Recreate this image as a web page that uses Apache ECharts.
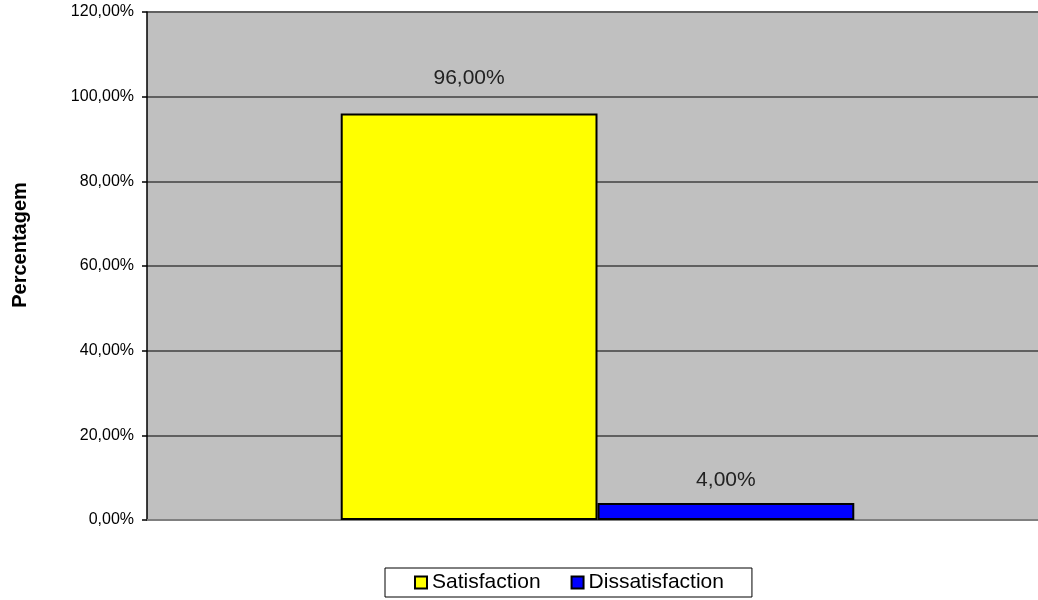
<!DOCTYPE html>
<html><head><meta charset="utf-8">
<script src="https://cdn.jsdelivr.net/npm/echarts@6/dist/echarts.min.js"></script>
<style>html,body{margin:0;padding:0;background:#fff}#c{width:1038px;height:600px}</style>
</head><body><div id="c"></div>
<script>
const categories = [''];
const seriesNames = ['Satisfaction', 'Dissatisfaction'];
const satisfaction = [96];
const dissatisfaction = [4];
const yTicks = [0, 20, 40, 60, 80, 100, 120];

const fmt = v => v.toFixed(2).replace('.', ',') + '%';
const chart = echarts.init(document.getElementById('c'));
const font = 'Liberation Sans, Arial, sans-serif';
chart.setOption({
  animation: false,
  textStyle: { fontFamily: font },
  grid: { left: 147, right: -10, top: 12, bottom: 80, show: true, backgroundColor: '#C0C0C0', borderWidth: 0,
          containLabel: false, outerBoundsMode: 'none' },
  legend: {
    data: seriesNames, bottom: 3, left: 385,
    icon: 'rect', itemWidth: 12, itemHeight: 12, itemGap: 30,
    borderColor: '#000', borderWidth: 1, padding: [4, 28, 4, 29],
    textStyle: { fontSize: 21, color: '#000', fontFamily: font },
    itemStyle: { borderColor: '#000', borderWidth: 2 }
  },
  xAxis: {
    type: 'category', data: categories,
    axisLine: { lineStyle: { color: '#808080', width: 2 } },
    axisTick: { show: false }, axisLabel: { show: false }
  },
  yAxis: {
    type: 'value', min: yTicks[0], max: yTicks[yTicks.length - 1], interval: 20,
    name: 'Percentagem', nameLocation: 'middle', nameGap: 117, nameRotate: 90,
    nameTextStyle: { fontSize: 20, fontWeight: 'bold', color: '#000', fontFamily: font, padding: [0, 0, 0, 42] },
    axisLine: { show: true, lineStyle: { color: '#000', width: 1.5 } },
    axisTick: { show: true, length: 5, lineStyle: { color: '#000', width: 1.5 } },
    axisLabel: { formatter: fmt, fontSize: 16, color: '#000', margin: 13, fontFamily: font },
    splitLine: { lineStyle: { color: '#606060', width: 2 } }
  },
  series: [
    { name: seriesNames[0], type: 'bar', barGap: '0%', barCategoryGap: '43%',
      itemStyle: { color: '#FFFF00', borderColor: '#000', borderWidth: 2 },
      label: { show: true, position: 'top', distance: 25, formatter: p => fmt(p.value), fontSize: 21, color: '#222', fontFamily: font },
      data: satisfaction },
    { name: seriesNames[1], type: 'bar',
      itemStyle: { color: '#0000FF', borderColor: '#000', borderWidth: 2 },
      label: { show: true, position: 'top', distance: 12, formatter: p => fmt(p.value), fontSize: 21, color: '#222', fontFamily: font },
      data: dissatisfaction }
  ]
});
</script></body></html>
